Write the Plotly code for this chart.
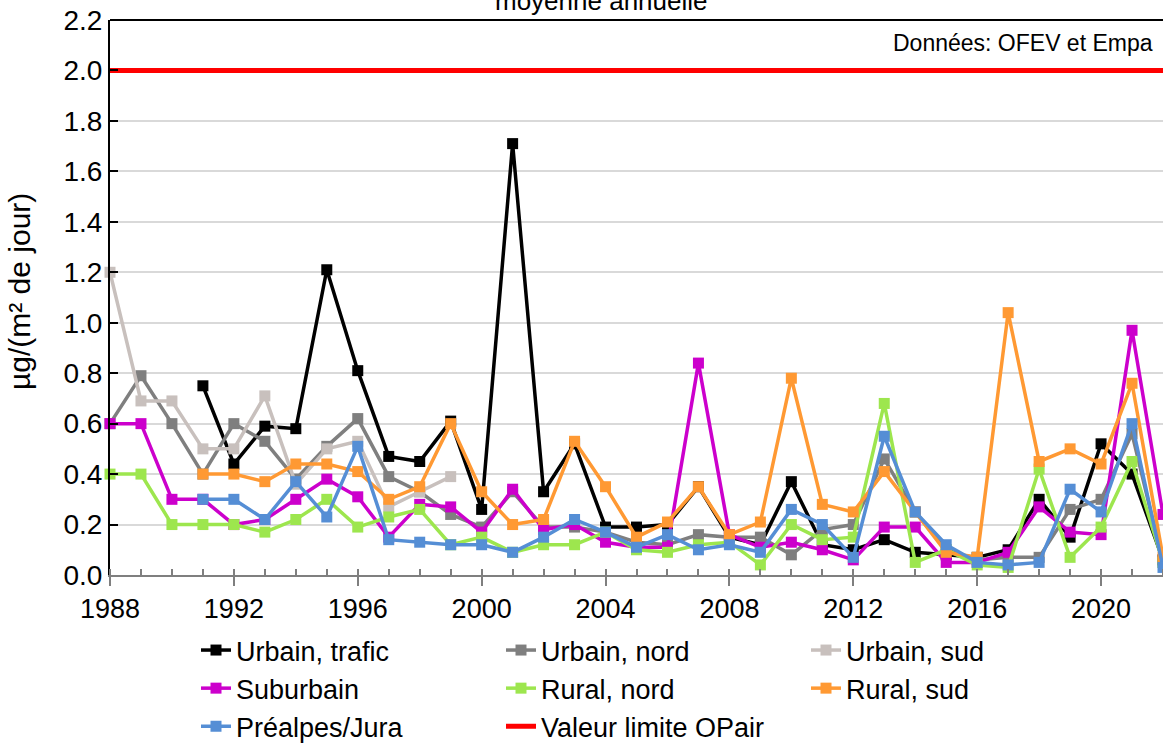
import plotly.graph_objects as go

years = list(range(1988, 2023))

urbain_trafic = [None, None, None, 0.75, 0.44, 0.59, 0.58, 1.21, 0.81, 0.47, 0.45, 0.61, 0.26, 1.71, 0.33, 0.52,
                 0.19, 0.19, 0.20, 0.35, 0.15, 0.12, 0.37, 0.12, 0.10, 0.14, 0.09, 0.08, 0.07, 0.10, 0.30, 0.15,
                 0.52, 0.40, 0.06]
urbain_nord = [0.60, 0.79, 0.60, 0.40, 0.60, 0.53, 0.38, 0.51, 0.62, 0.39, 0.33, 0.24, 0.19, 0.33, 0.19, 0.19,
               0.17, 0.13, 0.12, 0.16, 0.15, 0.15, 0.08, 0.18, 0.20, 0.46, 0.25, 0.10, 0.06, 0.07, 0.07, 0.26,
               0.30, 0.56, 0.05]
urbain_sud = [1.20, 0.69, 0.69, 0.50, 0.50, 0.71, 0.36, 0.50, 0.53, 0.27, 0.33, 0.39] + [None] * 23
suburbain = [0.60, 0.60, 0.30, 0.30, 0.20, 0.22, 0.30, 0.38, 0.31, 0.15, 0.28, 0.27, 0.17, 0.34, 0.18, 0.20,
             0.13, 0.11, 0.11, 0.84, 0.16, 0.11, 0.13, 0.10, 0.06, 0.19, 0.19, 0.05, 0.05, 0.09, 0.27, 0.17,
             0.16, 0.97, 0.24]
rural_nord = [0.40, 0.40, 0.20, 0.20, 0.20, 0.17, 0.22, 0.30, 0.19, 0.23, 0.26, 0.12, 0.15, 0.09, 0.12, 0.12,
              0.17, 0.10, 0.09, 0.12, 0.13, 0.04, 0.20, 0.14, 0.15, 0.68, 0.05, 0.10, 0.04, 0.03, 0.42, 0.07,
              0.19, 0.45, 0.05]
rural_sud = [None, None, None, 0.40, 0.40, 0.37, 0.44, 0.44, 0.41, 0.30, 0.35, 0.60, 0.33, 0.20, 0.22, 0.53,
             0.35, 0.15, 0.21, 0.35, 0.16, 0.21, 0.78, 0.28, 0.25, 0.41, 0.25, 0.09, 0.07, 1.04, 0.45, 0.50,
             0.44, 0.76, 0.07]
prealpes_jura = [None, None, None, 0.30, 0.30, 0.22, 0.37, 0.23, 0.51, 0.14, 0.13, 0.12, 0.12, 0.09, 0.15, 0.22,
                 0.17, 0.11, 0.16, 0.10, 0.12, 0.09, 0.26, 0.20, 0.07, 0.55, 0.25, 0.12, 0.05, 0.04, 0.05, 0.34,
                 0.25, 0.60, 0.03]
limit_value = 2.0

series = [
    ("Urbain, trafic", urbain_trafic, "#000000"),
    ("Urbain, nord", urbain_nord, "#7F7F7F"),
    ("Urbain, sud", urbain_sud, "#C8C0BD"),
    ("Suburbain", suburbain, "#CC00CC"),
    ("Rural, nord", rural_nord, "#9DE64E"),
    ("Rural, sud", rural_sud, "#FF9933"),
    ("Préalpes/Jura", prealpes_jura, "#558ED5"),
]

fig = go.Figure()
for name, vals, col in series:
    fig.add_trace(go.Scatter(
        x=years, y=vals, name=name, mode="lines+markers",
        line=dict(color=col, width=3.5),
        marker=dict(symbol="square", size=11, color=col),
        cliponaxis=False, connectgaps=False,
    ))

fig.add_trace(go.Scatter(
    x=[years[0], years[-1]], y=[limit_value, limit_value], name="Valeur limite OPair",
    mode="lines", line=dict(color="#FF0000", width=5),
))

W, H = 1163, 746
L, R, T, B = 110, 0, 20, 171
pw = W - L - R
ph = H - T - B

fig.update_layout(
    width=W, height=H,
    margin=dict(l=L, r=R, t=T, b=B, autoexpand=False),
    paper_bgcolor="white", plot_bgcolor="white",
    font=dict(family="Liberation Sans, Arial, sans-serif", size=26, color="black"),
    showlegend=True,
    legend=dict(
        orientation="h", x=(196 - L) / pw, xanchor="left",
        y=(575 - 626) / ph, yanchor="top",
        entrywidth=260, entrywidthmode="pixels",
        font=dict(size=27), traceorder="normal",
        bgcolor="rgba(0,0,0,0)",
    ),
    xaxis=dict(
        range=[1988, 2022], tickmode="linear", tick0=1988, dtick=4,
        ticks="outside", ticklen=9, tickcolor="#7F7F7F", tickwidth=1.5,
        showline=True, linecolor="#7F7F7F", linewidth=2,
        showgrid=False, zeroline=False,
        minor=dict(tick0=1988, dtick=1, ticks="inside", ticklen=6,
                   tickcolor="#7F7F7F", tickwidth=1.5, showgrid=False),
        tickfont=dict(size=27),
    ),
    yaxis=dict(
        range=[0, 2.2], tickmode="linear", tick0=0, dtick=0.2, tickformat=".1f",
        ticks="inside", ticklen=8, tickcolor="black", tickwidth=1.5,
        showline=True, linecolor="black", linewidth=2,
        showgrid=True, gridcolor="#D9D9D9", gridwidth=1.5,
        zeroline=False, tickfont=dict(size=28),
    ),
    shapes=[dict(type="line", xref="paper", yref="paper", x0=0, x1=1, y0=1, y1=1,
                 line=dict(color="black", width=2), layer="above")],
    annotations=[
        dict(text="Données: OFEV et Empa", xref="paper", yref="paper",
             x=(1155 - L) / pw, y=(575 - 43) / ph, xanchor="right", yanchor="middle",
             showarrow=False, font=dict(size=23)),
        dict(text="moyenne annuelle", xref="paper", yref="paper",
             x=(601 - L) / pw, y=(575 - 1) / ph, xanchor="center", yanchor="middle",
             showarrow=False, font=dict(size=26)),
        dict(text="µg/(m² de jour)", xref="paper", yref="paper",
             x=(19 - L) / pw, y=(575 - 292) / ph, xanchor="center", yanchor="middle",
             textangle=-90, showarrow=False, font=dict(size=30)),
    ],
)

fig.write_html(
    "out.html",
    config={"displayModeBar": False},
    post_script="document.body.style.margin='0px';document.body.style.overflow='hidden';",
)
